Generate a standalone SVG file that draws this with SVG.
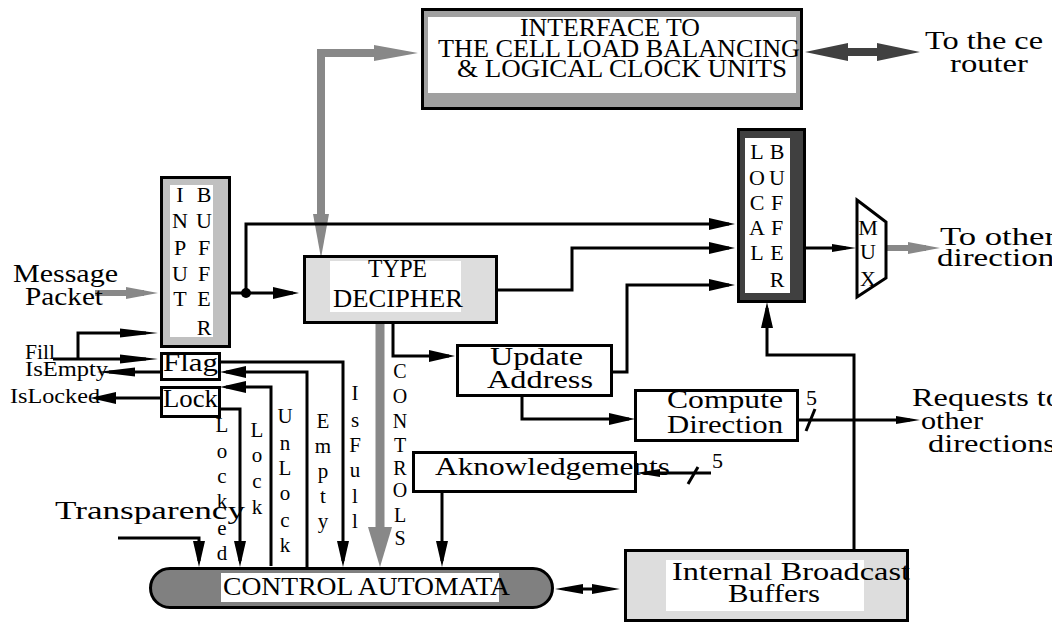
<svg xmlns="http://www.w3.org/2000/svg" width="1052" height="623" viewBox="0 0 1052 623">
<defs>
<style>
text{font-family:"Liberation Serif","Times New Roman",serif;fill:#000}
.t25{font-size:25px}
.t22{font-size:22px}
.t21{font-size:21px}
.t20{font-size:20px}
.mid{text-anchor:middle}
.box{stroke:#000;stroke-width:3}
.ln{fill:none;stroke:#000;stroke-width:3}
</style>
<clipPath id="cellclip"><rect x="900" y="20" width="143" height="40"/></clipPath>
<marker id="ma" markerUnits="userSpaceOnUse" markerWidth="26" markerHeight="12" refX="20" refY="6" orient="auto"><path d="M0,0 L26,6 L0,12 Z" fill="#000"/></marker>
<marker id="mt" markerUnits="userSpaceOnUse" markerWidth="38" markerHeight="10" refX="26" refY="5" orient="auto"><path d="M0,0.5 L38,5 L0,9.5 Z" fill="#000"/></marker>
<marker id="ms" markerUnits="userSpaceOnUse" markerWidth="24" markerHeight="8" refX="14" refY="4" orient="auto"><path d="M0,0 L24,4 L0,8 Z" fill="#000"/></marker>
<marker id="mb" markerUnits="userSpaceOnUse" markerWidth="28" markerHeight="10" refX="18" refY="5" orient="auto-start-reverse"><path d="M0,0 L28,5 L0,10 Z" fill="#000"/></marker>
<marker id="mg" markerUnits="userSpaceOnUse" markerWidth="44" markerHeight="16" refX="22" refY="8" orient="auto-start-reverse"><path d="M0,0 L44,8 L0,16 Z" fill="#888"/></marker>
<marker id="mgs" markerUnits="userSpaceOnUse" markerWidth="32" markerHeight="12" refX="18" refY="6" orient="auto"><path d="M0,0 L32,6 L0,12 Z" fill="#888"/></marker>
<marker id="mgc" markerUnits="userSpaceOnUse" markerWidth="40" markerHeight="24" refX="24" refY="12" orient="auto"><path d="M0,0 L40,12 L0,24 Z" fill="#888"/></marker>
<marker id="md" markerUnits="userSpaceOnUse" markerWidth="43" markerHeight="18" refX="23" refY="9" orient="auto-start-reverse"><path d="M0,0 L43,9 L0,18 Z" fill="#404040"/></marker>
</defs>
<rect width="1052" height="623" fill="#fff"/>

<g id="connectors">
  <path d="M321,236 V53 H396" fill="none" stroke="#888" stroke-width="8" marker-start="url(#mg)" marker-end="url(#mg)"/>
  <path d="M825,52 H900" fill="none" stroke="#404040" stroke-width="8" marker-start="url(#md)" marker-end="url(#md)"/>
  <path d="M95,293 H144" fill="none" stroke="#888" stroke-width="6" marker-end="url(#mgs)"/>
  <path d="M886,248 H926" fill="none" stroke="#888" stroke-width="6" marker-end="url(#mgs)"/>
  <path d="M380,323 V551" fill="none" stroke="#888" stroke-width="9" marker-end="url(#mgc)"/>
  <path class="ln" d="M230,293 H293" marker-end="url(#ma)"/>
  <path class="ln" d="M246,293 V224 H729" marker-end="url(#ma)"/>
  <circle cx="246" cy="293" r="5" fill="#000"/>
  <path class="ln" d="M497,290 H572 V248 H729" marker-end="url(#ma)"/>
  <path class="ln" d="M612,372 H627 V285 H729" marker-end="url(#ma)"/>
  <path class="ln" d="M854,550 V355 H767 V308" marker-end="url(#ma)"/>
  <path class="ln" d="M805,248 H846" marker-end="url(#ms)"/>
  <path class="ln" d="M393,323 V356 H449" marker-end="url(#ma)"/>
  <path class="ln" d="M522,396 V419 H629" marker-end="url(#ma)"/>
  <path class="ln" d="M798,420 H910" marker-end="url(#ms)"/>
  <path class="ln" d="M806,431 L815,409"/>
  <path class="ln" d="M711,473 H646" marker-end="url(#ms)"/>
  <path class="ln" d="M688,484 L698,467"/>
  <path class="ln" d="M442,492 V561" marker-end="url(#ma)"/>
  <path class="ln" d="M565,589 H610" marker-start="url(#mb)" marker-end="url(#mb)"/>
  <path class="ln" d="M118,538 H199 V561" marker-end="url(#ma)"/>
  <path class="ln" d="M218,409 H240 V561" marker-end="url(#ma)"/>
  <path class="ln" d="M271,566 V387 H226" marker-end="url(#ma)"/>
  <path class="ln" d="M307,568 V372 H226" marker-end="url(#ma)"/>
  <path class="ln" d="M220,362 H343 V561" marker-end="url(#ma)"/>
  <path class="ln" d="M53,359 H146" marker-end="url(#mt)"/>
  <path class="ln" d="M78,359 V333 H146" marker-end="url(#mt)"/>
  <path class="ln" d="M160,372 H109" marker-end="url(#mt)"/>
  <path class="ln" d="M160,398 H96" marker-end="url(#ma)"/>
</g>

<g id="interface">
  <rect class="box" x="422.5" y="9.5" width="379" height="99" fill="#a0a0a0"/>
  <rect x="428" y="17" width="368" height="76" fill="#fff"/>
  <text class="t25" x="520" y="36" textLength="180" lengthAdjust="spacingAndGlyphs">INTERFACE TO</text>
  <text class="t25" x="438" y="57" textLength="362" lengthAdjust="spacingAndGlyphs">THE CELL LOAD BALANCING</text>
  <text class="t25" x="457" y="77" textLength="330" lengthAdjust="spacingAndGlyphs">&amp; LOGICAL CLOCK UNITS</text>
</g>

<g id="cell-router">
  <text class="t25" x="925" y="49" textLength="136" lengthAdjust="spacingAndGlyphs" clip-path="url(#cellclip)">To the cell</text>
  <text class="t25" x="950" y="72" textLength="78" lengthAdjust="spacingAndGlyphs">router</text>
</g>

<g id="message-packet">
  <text class="t25" x="13" y="282" textLength="105" lengthAdjust="spacingAndGlyphs">Message</text>
  <text class="t25" x="25" y="305" textLength="78" lengthAdjust="spacingAndGlyphs">Packet</text>
</g>

<g id="input-buffer">
  <rect class="box" x="161.5" y="177.5" width="68" height="169" fill="#c0c0c0"/>
  <rect x="170" y="185" width="43" height="152" fill="#fff"/>
  <text class="t22 mid"><tspan x="180" y="202">I</tspan><tspan x="180" y="228">N</tspan><tspan x="180" y="255">P</tspan><tspan x="180" y="281">U</tspan><tspan x="180" y="306">T</tspan></text>
  <text class="t22 mid"><tspan x="204" y="202">B</tspan><tspan x="204" y="228">U</tspan><tspan x="204" y="255">F</tspan><tspan x="204" y="281">F</tspan><tspan x="204" y="306">E</tspan><tspan x="204" y="335">R</tspan></text>
</g>

<g id="type-decipher">
  <rect class="box" x="304.5" y="256.5" width="192" height="66" fill="#ddd"/>
  <rect x="330" y="261" width="131" height="51" fill="#fff"/>
  <text class="t25" x="368" y="277" textLength="59" lengthAdjust="spacingAndGlyphs">TYPE</text>
  <text class="t25" x="333" y="307" textLength="130" lengthAdjust="spacingAndGlyphs">DECIPHER</text>
</g>

<g id="local-buffer">
  <rect class="box" x="738.5" y="129.5" width="66" height="172" fill="#404040"/>
  <rect x="745" y="138" width="45" height="155" fill="#fff"/>
  <text class="t22 mid"><tspan x="757" y="159">L</tspan><tspan x="757" y="185">O</tspan><tspan x="757" y="210">C</tspan><tspan x="757" y="235">A</tspan><tspan x="757" y="260">L</tspan></text>
  <text class="t22 mid"><tspan x="777" y="159">B</tspan><tspan x="777" y="185">U</tspan><tspan x="777" y="210">F</tspan><tspan x="777" y="235">F</tspan><tspan x="777" y="260">E</tspan><tspan x="777" y="287">R</tspan></text>
</g>

<g id="mux">
  <polygon class="box" points="857,200 886,222 886,278 857,297" fill="#fff"/>
  <text class="t22 mid"><tspan x="868" y="235">M</tspan><tspan x="868" y="259">U</tspan><tspan x="868" y="286">X</tspan></text>
</g>

<g id="to-other">
  <text class="t25" x="940" y="245" textLength="116" lengthAdjust="spacingAndGlyphs">To other</text>
  <text class="t25" x="937" y="266" textLength="130" lengthAdjust="spacingAndGlyphs">directions</text>
</g>

<g id="update-address">
  <rect class="box" x="457.5" y="345.5" width="154" height="50" fill="#fff"/>
  <text class="t25" x="490" y="365" textLength="93" lengthAdjust="spacingAndGlyphs">Update</text>
  <text class="t25" x="487" y="388" textLength="106" lengthAdjust="spacingAndGlyphs">Address</text>
</g>

<g id="compute-direction">
  <rect class="box" x="635.5" y="390.5" width="162" height="50" fill="#fff"/>
  <text class="t25" x="667" y="408" textLength="116" lengthAdjust="spacingAndGlyphs">Compute</text>
  <text class="t25" x="667" y="433" textLength="116" lengthAdjust="spacingAndGlyphs">Direction</text>
  <text class="t22" x="806" y="405">5</text>
</g>

<g id="requests">
  <text class="t25" x="912" y="406" textLength="150" lengthAdjust="spacingAndGlyphs">Requests to</text>
  <text class="t25" x="921" y="429" textLength="62" lengthAdjust="spacingAndGlyphs">other</text>
  <text class="t25" x="928" y="452" textLength="128" lengthAdjust="spacingAndGlyphs">directions</text>
</g>

<g id="acknowledgements">
  <rect class="box" x="413.5" y="452.5" width="222" height="39" fill="#fff"/>
  <text class="t25" x="435" y="475" textLength="235" lengthAdjust="spacingAndGlyphs">Aknowledgements</text>
  <text class="t22" x="712" y="468">5</text>
</g>

<g id="flag">
  <rect class="box" x="161.5" y="353.5" width="58" height="26" fill="#fff"/>
  <text class="t25" x="163" y="371" textLength="55" lengthAdjust="spacingAndGlyphs">Flag</text>
</g>
<g id="lock">
  <rect class="box" x="161.5" y="387.5" width="58" height="29" fill="#fff"/>
  <text class="t25" x="163" y="407" textLength="55" lengthAdjust="spacingAndGlyphs">Lock</text>
</g>

<g id="side-labels">
  <text class="t22" x="25" y="359" textLength="30" lengthAdjust="spacingAndGlyphs">Fill</text>
  <text class="t22" x="25" y="376" textLength="83" lengthAdjust="spacingAndGlyphs">IsEmpty</text>
  <text class="t22" x="10" y="403" textLength="90" lengthAdjust="spacingAndGlyphs">IsLocked</text>
  <text class="t25" x="55" y="519" textLength="190" lengthAdjust="spacingAndGlyphs">Transparency</text>
</g>

<g id="signal-labels">
  <text class="t21 mid"><tspan x="222" y="432">L</tspan><tspan x="222" y="458">o</tspan><tspan x="222" y="483">c</tspan><tspan x="222" y="508">k</tspan><tspan x="222" y="535">e</tspan><tspan x="222" y="560">d</tspan></text>
  <text class="t21 mid"><tspan x="257" y="437">L</tspan><tspan x="257" y="462">o</tspan><tspan x="257" y="488">c</tspan><tspan x="257" y="514">k</tspan></text>
  <text class="t21 mid"><tspan x="285" y="423">U</tspan><tspan x="285" y="450">n</tspan><tspan x="285" y="475">L</tspan><tspan x="285" y="500">o</tspan><tspan x="285" y="527">c</tspan><tspan x="285" y="552">k</tspan></text>
  <text class="t21 mid"><tspan x="323" y="428">E</tspan><tspan x="323" y="453">m</tspan><tspan x="323" y="478">p</tspan><tspan x="323" y="503">t</tspan><tspan x="323" y="528">y</tspan></text>
  <text class="t21 mid"><tspan x="355" y="400">I</tspan><tspan x="355" y="427">s</tspan><tspan x="355" y="452">F</tspan><tspan x="355" y="477">u</tspan><tspan x="355" y="503">l</tspan><tspan x="355" y="528">l</tspan></text>
  <text class="t20 mid"><tspan x="400" y="378">C</tspan><tspan x="400" y="403">O</tspan><tspan x="400" y="428">N</tspan><tspan x="400" y="452">T</tspan><tspan x="400" y="475">R</tspan><tspan x="400" y="497">O</tspan><tspan x="400" y="522">L</tspan><tspan x="400" y="545">S</tspan></text>
</g>

<g id="control-automata">
  <rect class="box" x="150.5" y="568.5" width="402" height="39" rx="19.5" fill="#808080"/>
  <rect x="221" y="573" width="278" height="29" fill="#fff"/>
  <text class="t25" x="223" y="595" textLength="287" lengthAdjust="spacingAndGlyphs">CONTROL AUTOMATA</text>
</g>

<g id="internal-broadcast">
  <rect class="box" x="625.5" y="550.5" width="282" height="70" fill="#ddd"/>
  <rect x="666" y="560" width="198" height="51" fill="#fff"/>
  <text class="t25" x="672" y="580" textLength="238" lengthAdjust="spacingAndGlyphs">Internal Broadcast</text>
  <text class="t25" x="728" y="602" textLength="92" lengthAdjust="spacingAndGlyphs">Buffers</text>
</g>
</svg>
